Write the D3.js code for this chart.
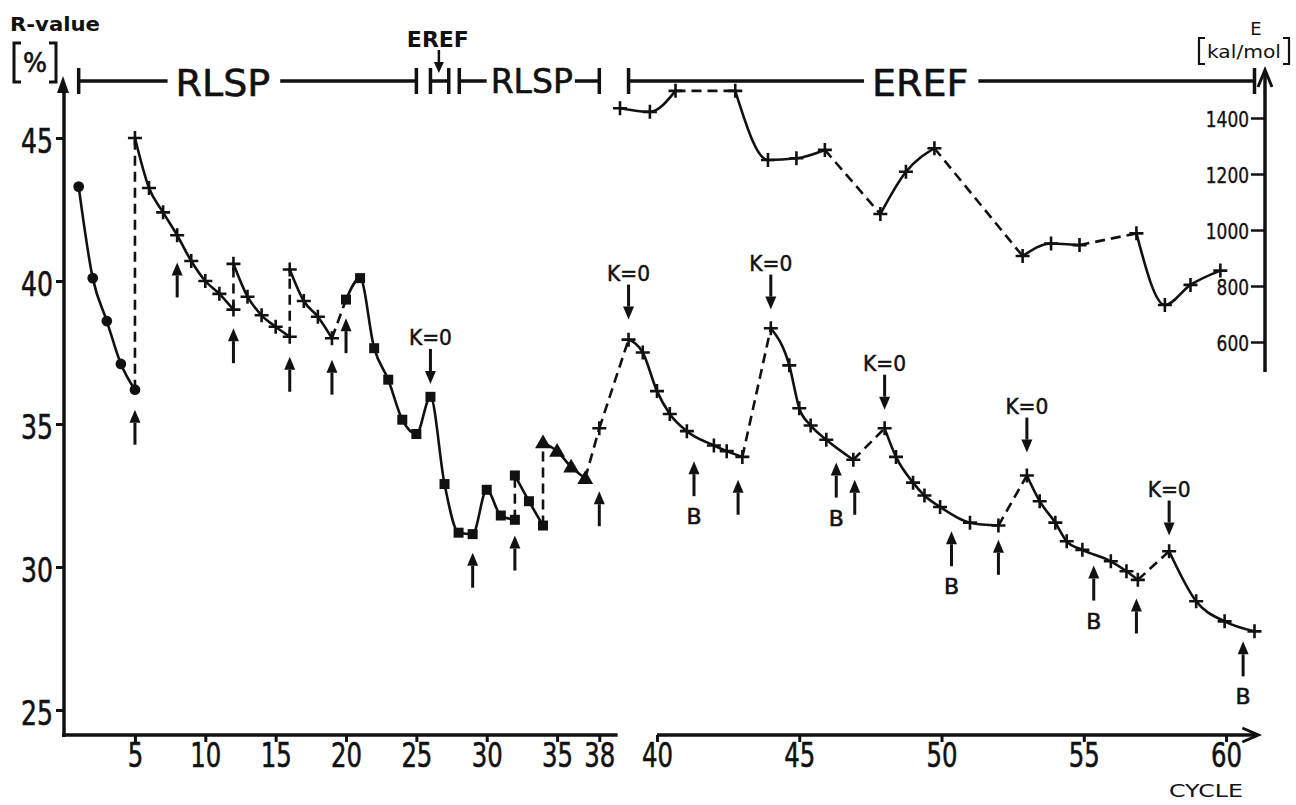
<!DOCTYPE html>
<html>
<head>
<meta charset="utf-8">
<script src="https://cdn.jsdelivr.net/npm/d3@7"></script>
<style>
  html, body { margin: 0; padding: 0; background: #fff; }
  svg { display: block; }
</style>
</head>
<body>
<svg id="chart" width="1296" height="805"></svg>
<script>
// ---------- R-value runs (cycle number, R-value in %) ----------
const circleCycles = [1, 2, 3, 4, 5];
const circleR = [43.3, 40.1, 38.6, 37.1, 36.2];

const plusCyclesA = [5, 6, 7, 8, 9, 10, 11, 12];
const plusRA = [45.0, 43.25, 42.4, 41.6, 40.7, 40.0, 39.55, 39.0];
const plusCyclesB = [12, 13, 14, 15, 16];
const plusRB = [40.6, 39.45, 38.8, 38.4, 38.05];
const plusCyclesC = [16, 17, 18, 19];
const plusRC = [40.4, 39.3, 38.75, 38.0];

const squareCyclesA = [20, 21, 22, 23, 24, 25, 26, 27, 28, 29, 30, 31, 32];
const squareRA = [39.35, 40.1, 37.65, 36.55, 35.15, 34.65, 35.95, 32.9, 31.2, 31.15, 32.7, 31.8, 31.65];
const squareCyclesB = [32, 33, 34];
const squareRB = [33.2, 32.3, 31.45];

const triangleCycles = [34, 35, 36, 37];
const triangleR = [34.35, 34.05, 33.5, 33.1];

const plusCyclesD = [38];
const plusRD = [34.85];

const erefCyclesA = [39, 39.5, 40, 40.45, 41.05, 42, 42.45, 43];
const erefRA = [37.95, 37.5, 36.15, 35.35, 34.75, 34.25, 34.05, 33.85];
const erefCyclesB = [44, 44.65, 45, 45.4, 45.95, 46.9];
const erefRB = [38.35, 37.05, 35.55, 34.95, 34.45, 33.75];
const erefCyclesC = [48, 48.4, 49, 49.4, 49.95, 51, 52];
const erefRC = [34.85, 33.85, 32.95, 32.5, 32.1, 31.55, 31.45];
const erefCyclesD = [53, 53.45, 54, 54.4, 54.95, 55.95, 56.5, 56.9];
const erefRD = [33.2, 32.3, 31.55, 30.9, 30.6, 30.2, 29.85, 29.55];
const erefCyclesE = [58, 58.95, 59.95, 61];
const erefRE = [30.55, 28.8, 28.1, 27.75];

// ---------- Energy runs (cycle number, E in kal/mol) ----------
const energyCyclesA = [38.7, 39.75, 40.65];
const energyA = [1435, 1422, 1497];
const energyCyclesB = [42.75, 43.9, 44.9, 45.9];
const energyB = [1497, 1250, 1256, 1286];
const energyCyclesC = [47.85, 48.75, 49.75];
const energyC = [1057, 1208, 1292];
const energyCyclesD = [52.85, 53.85, 54.85];
const energyD = [907, 952, 946];
const energyCyclesE = [56.85, 57.85, 58.75, 59.8];
const energyE = [988, 732, 804, 855];

// ---------- Annotations ----------
const upArrowCycles = [5, 8, 12, 16, 19, 20, 29, 32, 38, 41.3, 42.85, 46.3, 46.95, 50.35, 52, 55.35, 56.85, 60.6];
const upArrowTipR = [35.5, 40.65, 38.35, 37.35, 37.25, 38.7, 30.5, 31.1, 32.65, 33.7, 33.05, 33.65, 33.05, 31.25, 30.95, 30.05, 28.9, 27.4];
const upArrowLabels = ['', '', '', '', '', '', '', '', '', 'B', '', 'B', '', 'B', '', 'B', '', 'B'];
const kZeroCycles = [26, 39, 44, 48, 53, 58];
const kZeroTipR = [36.4, 38.65, 39.0, 35.5, 34.0, 31.1];

// ---------- Phase bar along the top ----------
const phaseNames = ['RLSP', 'EREF', 'RLSP', 'EREF'];
const phaseStart = [1, 26, 28.05, 39];
const phaseEnd = [25, 27.3, 38, 61];
const phaseLabelAt = [11.25, 26.6, 33.2, 49.25];

// ---------- Tick values ----------
const leftCycleTicks = [5, 10, 15, 20, 25, 30, 35, 38];
const rightCycleTicks = [40, 45, 50, 55, 60];
const rTicks = [25, 30, 35, 40, 45];
const eTicks = [600, 800, 1000, 1200, 1400];

// ---------- Scales (the cycle axis is broken between 38 and 40) ----------
const SANS = "'DejaVu Sans','Liberation Sans',sans-serif";

const xLeft = d3.scaleLinear().domain([0, 38]).range([64.6, 599.3]);
const xRight = d3.scaleLinear().domain([40, 61]).range([657, 1254.5]);
const x = c => (c < 38.5 ? xLeft(c) : xRight(c));
const y = d3.scaleLinear().domain([25, 45]).range([710, 138]);
const yE = d3.scaleLinear().domain([600, 1400]).range([342, 118]);

const svg = d3.select('#chart');
const ink = '#111';

// squeeze a label to a narrow, DIN-like width
function narrow(sel, perChar) {
  sel.each(function () {
    const n = this.textContent.length;
    d3.select(this).attr('textLength', n * perChar).attr('lengthAdjust', 'spacingAndGlyphs');
  });
}

// ---------- Axes ----------
const xAxisY = 735;
const yAxisX = 64;
const eAxisX = 1265;

// left R axis
svg.append('line').attr('x1', yAxisX).attr('x2', yAxisX)
  .attr('y1', xAxisY + 2).attr('y2', 86)
  .attr('stroke', ink).attr('stroke-width', 3.5);
svg.append('path')
  .attr('d', `M${yAxisX - 1},76 L${yAxisX - 7},93 L${yAxisX + 5},93 Z`)
  .attr('fill', ink);

const gY = svg.append('g').attr('transform', `translate(${yAxisX},0)`)
  .call(d3.axisLeft(y).tickValues(rTicks).tickSize(8).tickPadding(3));
gY.select('.domain').remove();
gY.selectAll('line').attr('stroke', ink).attr('stroke-width', 3);
gY.selectAll('text').attr('font-family', SANS).attr('font-size', 33)
  .attr('fill', ink).attr('stroke', ink).attr('stroke-width', 0.6)
  .attr('dy', '0.44em').call(narrow, 16);

// right E axis
svg.append('line').attr('x1', eAxisX).attr('x2', eAxisX)
  .attr('y1', 372).attr('y2', 72)
  .attr('stroke', ink).attr('stroke-width', 3.5);
svg.append('path')
  .attr('d', `M${eAxisX - 7},87 L${eAxisX},70 L${eAxisX + 7},87`)
  .attr('fill', 'none').attr('stroke', ink).attr('stroke-width', 3);

const gE = svg.append('g').attr('transform', `translate(${eAxisX},0)`)
  .call(d3.axisLeft(yE).tickValues(eTicks).tickFormat(d3.format('d')).tickSize(14).tickPadding(2));
gE.select('.domain').remove();
gE.selectAll('line').attr('stroke', ink).attr('stroke-width', 2.5);
gE.selectAll('text').attr('font-family', SANS).attr('font-size', 22)
  .attr('fill', ink).attr('stroke', ink).attr('stroke-width', 0.4)
  .attr('dy', '0.38em').call(narrow, 10.8);

// cycle axis, left part
svg.append('line').attr('x1', yAxisX - 2).attr('x2', xLeft(39.3))
  .attr('y1', xAxisY).attr('y2', xAxisY)
  .attr('stroke', ink).attr('stroke-width', 3.5);
const gXL = svg.append('g').attr('transform', `translate(0,${xAxisY})`)
  .call(d3.axisBottom(xLeft).tickValues(leftCycleTicks).tickSize(7).tickPadding(2));
gXL.select('.domain').remove();

// cycle axis, right part
const xEnd = xRight(61.1);
svg.append('line').attr('x1', xRight(40)).attr('x2', xEnd)
  .attr('y1', xAxisY).attr('y2', xAxisY)
  .attr('stroke', ink).attr('stroke-width', 3.5);
svg.append('path')
  .attr('d', `M${xEnd - 15},${xAxisY - 7} L${xEnd + 1},${xAxisY} L${xEnd - 15},${xAxisY + 7}`)
  .attr('fill', 'none').attr('stroke', ink).attr('stroke-width', 3);
const gXR = svg.append('g').attr('transform', `translate(0,${xAxisY})`)
  .call(d3.axisBottom(xRight).tickValues(rightCycleTicks).tickSize(7).tickPadding(2));
gXR.select('.domain').remove();

[gXL, gXR].forEach(g => {
  g.selectAll('line').attr('stroke', ink).attr('stroke-width', 3);
  g.selectAll('text').attr('font-family', SANS).attr('font-size', 33).attr('fill', ink)
    .attr('stroke', ink).attr('stroke-width', 0.6)
    .call(narrow, 15.5);
});

// axis titles
svg.append('text').attr('x', 10).attr('y', 31).text('R-value')
  .attr('font-family', SANS).attr('font-weight', 'bold').attr('font-size', 19).attr('fill', ink)
  .attr('textLength', 90).attr('lengthAdjust', 'spacingAndGlyphs');
// [%] with drawn brackets
svg.append('path').attr('d', 'M21,43 H14 V82 H21 M49,43 H56 V82 H49')
  .attr('fill', 'none').attr('stroke', ink).attr('stroke-width', 3);
svg.append('text').attr('x', 35).attr('y', 72).attr('text-anchor', 'middle').text('%')
  .attr('font-family', SANS).attr('font-size', 27).attr('fill', ink)
  .attr('stroke', ink).attr('stroke-width', 0.6)
  .attr('textLength', 24).attr('lengthAdjust', 'spacingAndGlyphs');

svg.append('text').attr('x', 1256).attr('y', 35).attr('text-anchor', 'middle').text('E')
  .attr('font-family', SANS).attr('font-size', 18).attr('fill', ink);
svg.append('path').attr('d', 'M1205,38 H1199 V64 H1205 M1283,38 H1289 V64 H1283')
  .attr('fill', 'none').attr('stroke', ink).attr('stroke-width', 2.2);
svg.append('text').attr('x', 1244).attr('y', 58).attr('text-anchor', 'middle').text('kal/mol')
  .attr('font-family', SANS).attr('font-size', 18).attr('fill', ink)
  .attr('textLength', 74).attr('lengthAdjust', 'spacingAndGlyphs');

svg.append('text').attr('x', 1206).attr('y', 797).attr('text-anchor', 'middle').text('CYCLE')
  .attr('font-family', SANS).attr('font-size', 18).attr('fill', ink)
  .attr('textLength', 74).attr('lengthAdjust', 'spacingAndGlyphs');

// ---------- Phase bar ----------
const barY = 81;
const phaseG = svg.append('g');
phaseNames.forEach((name, i) => {
  const x0 = x(phaseStart[i]);
  const x1 = x(phaseEnd[i]);
  [x0, x1].forEach(xe => {
    phaseG.append('line').attr('x1', xe).attr('x2', xe).attr('y1', barY - 13).attr('y2', barY + 13)
      .attr('stroke', ink).attr('stroke-width', 3.5);
  });
  if (i === 1) {
    // short interval: plain bar, labelled above with a pointer
    phaseG.append('line').attr('x1', x0).attr('x2', x1).attr('y1', barY).attr('y2', barY)
      .attr('stroke', ink).attr('stroke-width', 3.5);
    const lx = x(phaseLabelAt[i]);
    phaseG.append('text').attr('x', lx - 1).attr('y', 47).attr('text-anchor', 'middle').text(name)
      .attr('font-family', SANS).attr('font-weight', 'bold').attr('font-size', 21).attr('fill', ink)
      .attr('textLength', 62).attr('lengthAdjust', 'spacingAndGlyphs');
    phaseG.append('line').attr('x1', lx).attr('x2', lx).attr('y1', 50).attr('y2', 64)
      .attr('stroke', ink).attr('stroke-width', 2.5);
    phaseG.append('path').attr('d', `M${lx - 5},62 L${lx + 5},62 L${lx},73 Z`).attr('fill', ink);
    return;
  }
  const big = i === 2 ? 33 : 38;
  const t = phaseG.append('text').attr('x', x(phaseLabelAt[i])).attr('y', barY + (i === 2 ? 12 : 15))
    .attr('text-anchor', 'middle').text(name)
    .attr('font-family', SANS).attr('font-size', big).attr('fill', ink)
    .attr('stroke', ink).attr('stroke-width', 0.6);
  const bb = t.node().getBBox();
  const padL = i === 2 ? 4 : 8;
  const padR = i === 2 ? 2 : 10;
  phaseG.append('line').attr('x1', x0).attr('x2', bb.x - padL).attr('y1', barY).attr('y2', barY)
    .attr('stroke', ink).attr('stroke-width', 3.5);
  phaseG.append('line').attr('x1', bb.x + bb.width + padR).attr('x2', x1).attr('y1', barY).attr('y2', barY)
    .attr('stroke', ink).attr('stroke-width', 3.5);
});

// ---------- Data runs ----------
const zip = (cs, vs) => cs.map((c, i) => [c, vs[i]]);

const rRuns = [
  { pts: zip(circleCycles, circleR), mark: 'circle' },
  { pts: zip(plusCyclesA, plusRA), mark: 'plus' },
  { pts: zip(plusCyclesB, plusRB), mark: 'plus' },
  { pts: zip(plusCyclesC, plusRC), mark: 'plus' },
  { pts: zip(squareCyclesA, squareRA), mark: 'square' },
  { pts: zip(squareCyclesB, squareRB), mark: 'square' },
  { pts: zip(triangleCycles, triangleR), mark: 'triangle' },
  { pts: zip(plusCyclesD, plusRD), mark: 'plus' },
  { pts: zip(erefCyclesA, erefRA), mark: 'plus' },
  { pts: zip(erefCyclesB, erefRB), mark: 'plus' },
  { pts: zip(erefCyclesC, erefRC), mark: 'plus' },
  { pts: zip(erefCyclesD, erefRD), mark: 'plus' },
  { pts: zip(erefCyclesE, erefRE), mark: 'plus' }
];
const eRuns = [
  { pts: zip(energyCyclesA, energyA), mark: 'plus' },
  { pts: zip(energyCyclesB, energyB), mark: 'plus' },
  { pts: zip(energyCyclesC, energyC), mark: 'plus' },
  { pts: zip(energyCyclesD, energyD), mark: 'plus' },
  { pts: zip(energyCyclesE, energyE), mark: 'plus' }
];

function drawSeries(runs, yScale) {
  const g = svg.append('g');
  const solid = d3.line().x(d => x(d[0])).y(d => yScale(d[1])).curve(d3.curveMonotoneX);
  const straight = d3.line().x(d => x(d[0])).y(d => yScale(d[1]));
  // dashed links join the end of each run to the start of the next
  runs.forEach((run, i) => {
    if (i === 0) return;
    const prev = runs[i - 1].pts;
    g.append('path').attr('d', straight([prev[prev.length - 1], run.pts[0]]))
      .attr('fill', 'none').attr('stroke', ink).attr('stroke-width', 2.6)
      .attr('stroke-dasharray', '10,6');
  });
  runs.forEach(run => {
    if (run.pts.length > 1) {
      g.append('path').attr('d', solid(run.pts))
        .attr('fill', 'none').attr('stroke', ink).attr('stroke-width', 2.6);
    }
  });
  runs.forEach(run => {
    run.pts.forEach(p => {
      const px = x(p[0]), py = yScale(p[1]);
      if (run.mark === 'plus') {
        g.append('path').attr('d', `M${px - 7},${py} H${px + 7} M${px},${py - 7} V${py + 7}`)
          .attr('stroke', ink).attr('stroke-width', 2.6).attr('fill', 'none');
      } else {
        const type = run.mark === 'circle' ? d3.symbolCircle
          : run.mark === 'square' ? d3.symbolSquare : d3.symbolTriangle;
        const size = run.mark === 'circle' ? 90 : run.mark === 'square' ? 100 : 110;
        g.append('path').attr('d', d3.symbol(type, size)())
          .attr('transform', `translate(${px},${py + (run.mark === 'triangle' ? 1 : 0)})`)
          .attr('fill', ink);
      }
    });
  });
}
drawSeries(rRuns, y);
drawSeries(eRuns, yE);

// ---------- Arrows ----------
const ARROW_LEN = 35;
function arrow(px, tipY, dir) {
  // dir = -1: pointing up (tail below), +1: pointing down (tail above)
  const tailY = tipY - dir * ARROW_LEN;
  const baseY = tipY - dir * 13;
  svg.append('line').attr('x1', px).attr('x2', px).attr('y1', tailY).attr('y2', baseY)
    .attr('stroke', ink).attr('stroke-width', 3);
  svg.append('path').attr('d', `M${px},${tipY} L${px - 5.5},${baseY} L${px + 5.5},${baseY} Z`).attr('fill', ink);
  return tailY;
}

upArrowCycles.forEach((c, i) => {
  const px = x(c);
  const tailY = arrow(px, y(upArrowTipR[i]), -1);
  if (upArrowLabels[i]) {
    svg.append('text').attr('x', px).attr('y', tailY + 28).attr('text-anchor', 'middle')
      .text(upArrowLabels[i])
      .attr('font-family', SANS).attr('font-size', 22).attr('fill', ink)
      .attr('stroke', ink).attr('stroke-width', 0.6);
  }
});

kZeroCycles.forEach((c, i) => {
  const px = x(c);
  const tailY = arrow(px, y(kZeroTipR[i]), 1);
  svg.append('text').attr('x', px).attr('y', tailY - 4).attr('text-anchor', 'middle')
    .text('K=0')
    .attr('font-family', SANS).attr('font-size', 21).attr('fill', ink)
    .attr('stroke', ink).attr('stroke-width', 0.5)
    .attr('textLength', 43).attr('lengthAdjust', 'spacingAndGlyphs');
});
</script>
</body>
</html>
